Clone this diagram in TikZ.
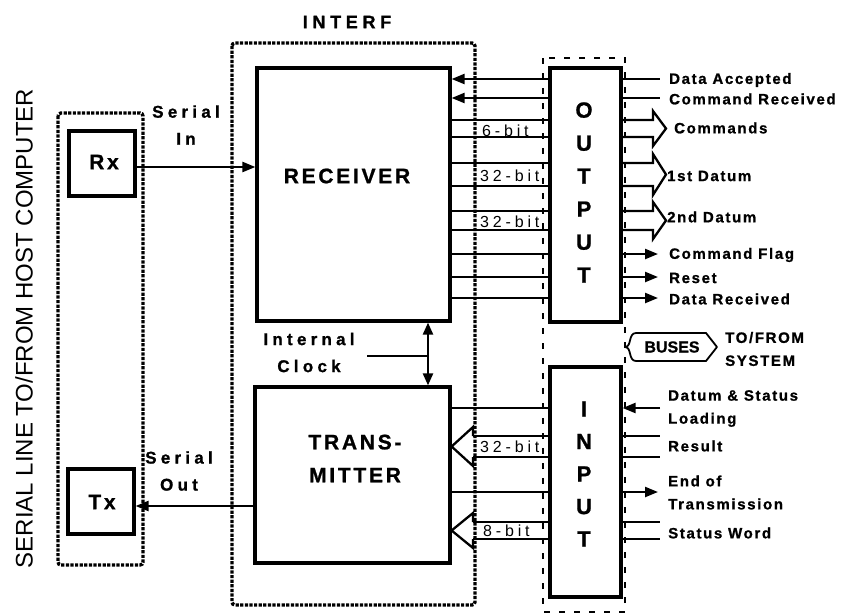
\documentclass[tikz,border=0pt]{standalone}
\usepackage{fontspec}
\setmainfont{Liberation Sans}[BoldFeatures={FakeBold=1}]
\newfontfamily\fbig{Liberation Sans}[LetterSpace=13, BoldFeatures={FakeBold=1}]
\newfontfamily\fint{Liberation Sans}[LetterSpace=26, BoldFeatures={FakeBold=1}]
\newfontfamily\fser{Liberation Sans}[LetterSpace=25, BoldFeatures={FakeBold=1}]
\newfontfamily\flab{Liberation Sans}[LetterSpace=11, BoldFeatures={FakeBold=1}]
\newfontfamily\fbit{Liberation Sans}[LetterSpace=24]
\usetikzlibrary{arrows.meta}
\begin{document}
\begin{tikzpicture}[x=1pt,y=-1pt,
  box/.style={draw, line width=3.2pt, fill=white, inner sep=0pt},
  dotbox/.style={draw, line width=3.4pt, dash pattern=on 3.2pt off 1.4pt, rounded corners=3pt},
  dashbox/.style={draw, line width=1.8pt, dash pattern=on 6pt off 9pt},
  ln/.style={line width=2.3pt},
  arr/.style={ln, -{Triangle[length=13pt,width=10pt]}},
  dblarr/.style={ln, {Triangle[length=12pt,width=10pt]}-{Triangle[length=12pt,width=10pt]}},
  bigtxt/.style={font=\fbig\bfseries\fontsize{21pt}{33pt}\selectfont, inner sep=0pt, align=center},
  vtxt/.style={font=\bfseries\fontsize{22pt}{33pt}\selectfont, inner sep=0pt, align=center},
  sertxt/.style={font=\fser\bfseries\fontsize{17pt}{27pt}\selectfont, inner sep=0pt, align=center},
  lbl/.style={font=\flab\bfseries\fontsize{15pt}{23pt}\selectfont, inner sep=0pt, anchor=west, align=left},
  bittxt/.style={font=\fbit\fontsize{16pt}{16pt}\selectfont, inner sep=0pt, anchor=west}
]
\useasboundingbox (0,0) rectangle (855,614);

% ---- boxes ----
\node[box, minimum width=66pt, minimum height=65pt] (rx) at (102,163.5) {};
\node[bigtxt] (rxt) at (104,162) {Rx};
\node[box, minimum width=66pt, minimum height=65pt] (tx) at (101,501.5) {};
\node[bigtxt] (txt) at (102,502) {Tx};
\node[box, minimum width=193pt, minimum height=253pt] (rcv) at (353.5,194.5) {};
\node[bigtxt] (rcvt) at (347,176) {RECEIVER};
\node[box, minimum width=195pt, minimum height=176pt] (trm) at (352.5,475) {};
\node[bigtxt] (trmt) at (355,458.5) {TRANS-\\MITTER};
\node[box, minimum width=71pt, minimum height=254pt] (out) at (585.5,195) {};
\node[vtxt] (outt) at (584,192.5) {O\\U\\T\\P\\U\\T};
\node[box, minimum width=71pt, minimum height=230pt] (inp) at (585.5,482) {};
\node[vtxt, font=\bfseries\fontsize{22pt}{32.5pt}\selectfont] (inpt) at (584,474) {I\\N\\P\\U\\T};

% ---- serial lines ----
\draw[arr] ([yshift=-3.5pt]rx.east) -- ([yshift=-3.5pt]rx.east -| rcv.west);
\draw[arr] (trm.west |- 0,506) -- (tx.east |- 0,506);

% ---- clock ----
\coordinate (clk) at (367,356);
\draw[dblarr] (rcv.south -| 428,0) -- (trm.north -| 428,0);
\draw[ln] (clk) -- (clk -| 428,0);

% ---- receiver <-> output ----
\foreach \y in {79,98}{
  \draw[ln] (out.east |- 0,\y) -- (660,\y);
  \draw[arr] (out.west |- 0,\y) -- (rcv.east |- 0,\y);
}
\foreach \a/\b in {120/137,163/186,211/230}{
  \pgfmathsetmacro\m{(\a+\b)/2}
  \draw[ln] (rcv.east |- 0,\a) -- (out.west |- 0,\a);
  \draw[ln] (rcv.east |- 0,\b) -- (out.west |- 0,\b);
  \draw[ln, line join=miter] (out.east |- 0,\a) -- (653,\a) -- (653,\a-9) -- (666,\m) -- (653,\b+9) -- (653,\b) -- (out.east |- 0,\b);
}
\foreach \y in {254,277,298}{
  \draw[ln] (rcv.east |- 0,\y) -- (out.west |- 0,\y);
  \draw[arr] (out.east |- 0,\y) -- (658,\y);
}

% ---- transmitter <-> input ----
\draw[ln] (trm.east |- 0,408) -- (inp.west |- 0,408);
\draw[arr] (660,408) -- (inp.east |- 0,408);
\draw[ln] (trm.east |- 0,492) -- (inp.west |- 0,492);
\draw[arr] (inp.east |- 0,492) -- (658,492);
\foreach \a/\b in {436/457,522/539}{
  \pgfmathsetmacro\m{(\a+\b)/2}
  \draw[ln] (473,\a) -- (inp.west |- 0,\a);
  \draw[ln] (473,\b) -- (inp.west |- 0,\b);
  \draw[ln, line join=miter] (473,\a) -- (473,\a-9) -- (trm.east |- 0,\m) -- (473,\b+9) -- (473,\b);
  \draw[ln] (inp.east |- 0,\a) -- (660,\a);
  \draw[ln] (inp.east |- 0,\b) -- (660,\b);
}

% ---- bit labels ----
\node[bittxt] (b6) at (482,131) {6-bit};
\node[bittxt] (b32a) at (480,176) {32-bit};
\node[bittxt] (b32b) at (480,222) {32-bit};
\node[bittxt] (b32c) at (480,446.5) {32-bit};
\node[bittxt] (b8) at (483,531) {8-bit};

% ---- enclosures ----
\draw[dotbox] (58,113) rectangle (143,565);
\draw[dotbox] (232,43) rectangle (475,605);
\draw[dashbox] (543,58) rectangle (625,612);

% ---- buses symbol ----
\node[font=\bfseries\fontsize{16pt}{16pt}\selectfont, inner sep=0pt] (buses) at (672,347) {BUSES};
\draw[line width=1.8pt, line join=round]
  (636,333) .. controls (628,333) and (632,347) .. (625,347)
  .. controls (632,347) and (628,361) .. (636,361) -- (706,361) -- (717,347) -- (706,333) -- cycle;

% ---- texts ----
\node[font=\fint\bfseries\fontsize{18pt}{18pt}\selectfont, inner sep=0pt] (interf) at (347,22) {INTERF};
\node[sertxt] (sin) at (186,125) {Serial\\In};
\node[sertxt] (sout) at (179,471) {Serial\\Out};
\node[sertxt] (iclk) at (309,352.5) {Internal\\Clock};
\node[rotate=90, inner sep=0pt, font=\fontsize{24pt}{24pt}\selectfont] (host) at (24,328.5) {SERIAL LINE TO/FROM HOST COMPUTER};

\node[lbl] (l1) at (669,80) {Data Accepted};
\node[lbl] (l2) at (669,99) {Command Received};
\node[lbl] (l3) at (674,128) {Commands};
\node[lbl] (l4) at (667,176) {1st Datum};
\node[lbl] (l5) at (667,217) {2nd Datum};
\node[lbl] (l6) at (669,255) {Command Flag};
\node[lbl] (l7) at (669,278) {Reset};
\node[lbl] (l8) at (669,299) {Data Received};
\node[lbl] (l9) at (725,349) {TO/FROM\\SYSTEM};
\node[lbl] (l10) at (668,408.5) {Datum \& Status\\Loading};
\node[lbl] (l11) at (668,446) {Result};
\node[lbl] (l12) at (668,492.5) {End of\\Transmission};
\node[lbl] (l13) at (668,533) {Status Word};
\end{tikzpicture}
\end{document}
